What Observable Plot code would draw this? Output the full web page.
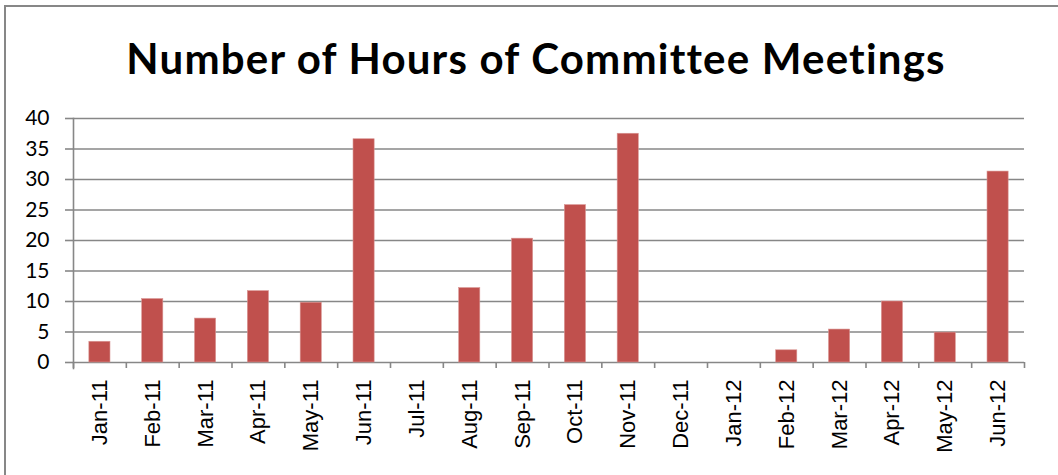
<!DOCTYPE html>
<html>
<head>
<meta charset="utf-8">
<script src="https://cdn.jsdelivr.net/npm/d3@7"></script>
<script src="https://cdn.jsdelivr.net/npm/@observablehq/plot@0.6"></script>
<style>
  html, body { margin: 0; padding: 0; background: #fff; overflow: hidden; }
  #wrap { position: relative; width: 1058px; height: 475px; background: #fff; }
  #border { position: absolute; left: 4px; top: 5px; width: 1100px; height: 600px; border: 2px solid #878787; box-sizing: border-box; z-index: 2; }
  #title { position: absolute; left: 0; top: 33px; width: 1072px; text-align: center; letter-spacing: 1.2px;
    font-family: Lato, "Open Sans", sans-serif; font-weight: bold; font-size: 42px; line-height: 50px; color: #000; }
  #chart { position: absolute; left: 0; top: 100px; }
</style>
</head>
<body>
<div id="wrap">
  <div id="border"></div>
  <div id="title">Number of Hours of Committee Meetings</div>
  <div id="chart"></div>
</div>
<script>
const months = ["Jan-11","Feb-11","Mar-11","Apr-11","May-11","Jun-11","Jul-11","Aug-11","Sep-11","Oct-11","Nov-11","Dec-11","Jan-12","Feb-12","Mar-12","Apr-12","May-12","Jun-12"];
const hours = [3.4, 10.4, 7.2, 11.7, 9.8, 36.6, 0, 12.2, 20.3, 25.8, 37.5, 0, 0, 2.0, 5.4, 10.0, 4.9, 31.3];
const yTicks = [0, 5, 10, 15, 20, 25, 30, 35, 40];

const data = months.map((m, i) => ({month: m, hours: hours[i]}));

const W = 1058, H = 375, mL = 73, mR = 34, mT = 18, mB = 113;
const bw = (W - mL - mR) / months.length;
const grid = "#878787";

const chart = Plot.plot({
  width: W,
  height: H,
  marginLeft: mL,
  marginRight: mR,
  marginTop: mT,
  marginBottom: mB,
  style: {fontFamily: "Lato, 'Open Sans', sans-serif", fontSize: "20px", color: "#000", background: "transparent"},
  x: {domain: months, paddingInner: 0.6, paddingOuter: 0.3, align: 0.5, round: false},
  y: {domain: [0, 40]},
  marks: [
    Plot.gridY(yTicks, {stroke: grid, strokeOpacity: 1, strokeWidth: 1.6}),
    Plot.axisY(yTicks, {tickSize: 8, tickPadding: 16, stroke: grid, strokeWidth: 1.6, fill: "#000", fontSize: 21, label: null}),
    Plot.frame({anchor: "left", stroke: grid, strokeWidth: 1.6, insetBottom: -6}),
    Plot.barY(data, {x: "month", y: "hours", fill: "#C0504D", stroke: "#D99694", strokeWidth: 0.6}),
    Plot.ruleX(months, {x: d => d, y1: 0, y2: 0, insetBottom: -6, dx: -bw / 2, stroke: grid, strokeWidth: 1.6}),
    Plot.ruleX(months.slice(-1), {x: d => d, y1: 0, y2: 0, insetBottom: -6, dx: bw / 2, stroke: grid, strokeWidth: 1.6}),
    Plot.axisX({tickSize: 0, tickRotate: -90, tickPadding: 17, fill: "#000", fontSize: 22, fontFamily: "'Liberation Sans', Arial, sans-serif", label: null})
  ]
});
document.getElementById("chart").appendChild(chart);
</script>
</body>
</html>
